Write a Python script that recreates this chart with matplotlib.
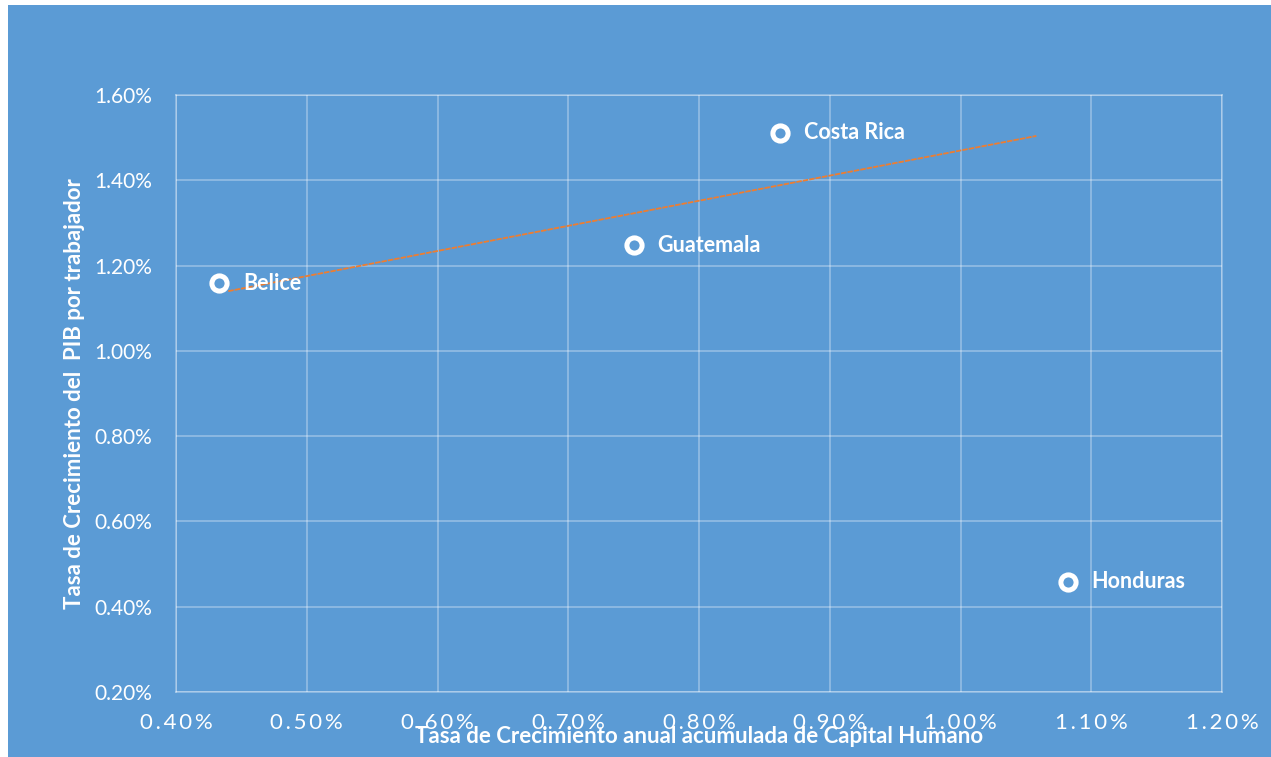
import matplotlib
matplotlib.use("Agg")
import matplotlib.pyplot as plt
from matplotlib.patches import Rectangle
from matplotlib.ticker import FuncFormatter

countries = ["Belice", "Guatemala", "Costa Rica", "Honduras"]
capital_humano = [0.433, 0.750, 0.862, 1.082]   # % crecimiento anual acumulado
pib_trabajador = [1.158, 1.248, 1.511, 0.458]   # % crecimiento PIB por trabajador
trend_x = [0.440, 1.058]
trend_y = [1.140, 1.504]
x_ticks = [0.40, 0.50, 0.60, 0.70, 0.80, 0.90, 1.00, 1.10, 1.20]
y_ticks = [0.20, 0.40, 0.60, 0.80, 1.00, 1.20, 1.40, 1.60]

BLUE = "#5B9BD5"
W, H = 1271, 757
fig = plt.figure(figsize=(W / 100, H / 100), dpi=100, facecolor="white")
fig.patches.append(Rectangle((8 / W, 0), 1 - 8 / W, 1 - 5 / H, transform=fig.transFigure,
                             facecolor=BLUE, edgecolor="none", zorder=-1))

ax = fig.add_axes([176 / W, 1 - 692 / H, (1222 - 176) / W, (692 - 95) / H])
ax.set_facecolor(BLUE)
ax.set_xlim(0.40, 1.20)
ax.set_ylim(0.20, 1.60)
ax.set_xticks(x_ticks)
ax.set_yticks(y_ticks)
ax.grid(True, color="white", alpha=0.35, linewidth=1.2)
ax.set_axisbelow(True)
for s in ax.spines.values():
    s.set_color((1, 1, 1, 0.35))
    s.set_linewidth(1.2)

ax.xaxis.set_major_formatter(FuncFormatter(lambda v, p: "\u2009".join(f"{v:.2f}%")))
ax.yaxis.set_major_formatter(FuncFormatter(lambda v, p: f"{v:.2f}%"))
ax.tick_params(axis="x", length=0, labelcolor="white", labelsize=16,
               labelfontfamily=["Lato", "DejaVu Sans"], pad=15)
ax.tick_params(axis="y", length=0, labelcolor="white", labelsize=15,
               labelfontfamily="Lato", pad=17)

ax.plot(trend_x, trend_y, color="#ED7D31", linewidth=1.3, linestyle=(0, (3, 0.6)), zorder=2)
ax.scatter(capital_humano, pib_trabajador, s=120, facecolor=BLUE, edgecolor="white",
           linewidth=3.6, zorder=3)
for x, y, name in zip(capital_humano, pib_trabajador, countries):
    ax.annotate(name, (x, y), xytext=(17, 0), textcoords="offset points", ha="left",
                va="center", color="white", fontsize=15.5, fontweight="bold",
                family="Lato", zorder=4)

ax.set_xlabel("Tasa de Crecimiento anual acumulada de Capital Humano", color="white",
              fontsize=16, fontweight="bold", family="Lato", labelpad=-5)
ax.set_ylabel("Tasa de Crecimiento del  PIB por trabajador", color="white",
              fontsize=16, fontweight="bold", family="Lato", labelpad=7)

fig.savefig("out.png", dpi=100, facecolor="white")
